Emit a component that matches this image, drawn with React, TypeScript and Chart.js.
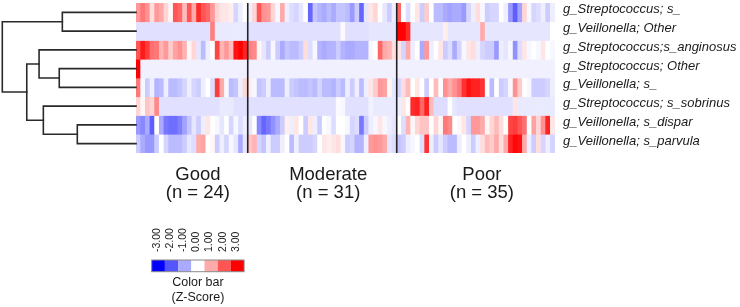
import React, { useEffect, useRef } from "react";
import { Chart, registerables } from "chart.js";

Chart.register(...registerables);

// ---------- data ----------
const taxa = [
  "g_Streptococcus; s_",
  "g_Veillonella; Other",
  "g_Streptococcus;s_anginosus",
  "g_Streptococcus; Other",
  "g_Veillonella; s_",
  "g_Streptococcus; s_sobrinus",
  "g_Veillonella; s_dispar",
  "g_Veillonella; s_parvula",
];

const groupNames = ["Good", "Moderate", "Poor"];
const groupN = [24, 31, 35];
const groupColumns = [24, 32, 34];

const colorBarTicks = [-3, -2, -1, 0, 1, 2, 3];

// z-scores per taxon: Good | Moderate | Poor columns
const zStreptococcusS = [
  1.2, 1.6, 1.3, 0.4, 1.2, 1.0, 0.5, 0.1, 2.0, 1.8, 0.8, 2.0, 1.0, 2.5, 2.0, 1.8, 1.2, 0.5, 0.3, 0.3, 0.2, -0.5, -0.2, 0.0,
  -0.2, 0.5, 2.0, 1.3, 1.2, 0.5, -0.1, 1.0, -0.2, -0.4, -0.5, -0.3, 0.0, -1.8, -0.7, -0.9, -1.0, -0.8, -1.0, -0.7, -0.7, -0.8, -1.2, -0.6, -1.8, -0.3, 0.3, 0.5, 0.0, -0.3, -0.6, -0.2,
  1.8, 0.0, -0.4, 0.0, 0.3, -0.6, 0.6, 0.0, -0.8, -0.8, -1.0, -1.1, -1.0, -1.0, -1.2, -0.5, -0.2, 0.4, -0.1, -0.6, -0.5, -0.5, 0.0, -0.2, -1.2, -1.9, -1.1, 0.5, -0.1, -0.5, -0.4, -0.2, -0.6, -0.2,
];
const zVeillonellaOther = [
  -0.35, -0.35, -0.35, -0.35, -0.35, -0.35, -0.35, -0.35, -0.35, -0.35, -0.35, -0.35, -0.35, -0.35, -0.35, -0.35, 1.5, -0.25, -0.25, -0.25, -0.25, -0.25, -0.25, -0.25,
  -0.35, -0.35, -0.35, -0.35, -0.35, -0.35, -0.35, -0.35, -0.35, -0.35, -0.35, -0.35, -0.35, -0.35, -0.35, -0.35, -0.35, -0.35, -0.35, -0.35, -0.05, -0.35, -0.35, -0.35, -0.35, -0.35, -0.3, -0.3, -0.3, -0.3, -0.3, -0.3,
  3.0, 3.0, 2.5, -0.3, -0.3, -0.3, -0.3, -0.3, -0.3, -0.3, 0.2, -0.3, -0.3, -0.3, -0.3, -0.3, -0.3, -0.3, 1.0, -0.3, -0.3, -0.3, -0.3, -0.3, -0.3, -0.3, -0.3, -0.3, -0.3, -0.3, -0.3, -0.3, -0.3, 0.0,
];
const zStreptococcusAnginosus = [
  2.0, 2.7, 2.3, 1.7, 1.6, 0.9, 1.2, 0.6, 1.1, 1.3, 0.9, 0.1, 0.5, -0.3, -0.8, -0.2, 0.0, 2.2, 0.9, 1.2, 0.8, 2.8, 3.0, 2.6,
  1.5, 1.4, 0.1, -0.3, -0.6, -0.1, -0.6, -1.0, -0.7, -0.8, -0.8, -0.6, 0.4, -0.4, -0.1, -0.9, -1.0, -0.9, -0.9, -0.6, -0.9, -1.0, -1.0, -0.9, -0.9, -0.9, -0.1, 0.0, 1.8, 1.0, 0.9, 0.4,
  0.3, -0.5, 1.0, -0.2, 0.0, -1.0, 1.2, -0.2, 0.0, 0.3, -0.6, -0.4, -1.0, -0.5, -0.1, 0.3, 0.4, -0.2, -0.5, -0.6, -0.6, -1.2, -0.2, -0.3, -0.1, -1.3, -0.4, 0.3, -0.1, 0.0, -0.1, 0.3, 0.0, -0.1,
];
const zStreptococcusOther = [
  3.0, -0.18, -0.18, -0.18, -0.18, -0.18, -0.18, -0.18, -0.18, -0.18, -0.18, -0.18, -0.18, -0.18, -0.18, -0.18, -0.18, -0.18, -0.18, -0.18, -0.18, -0.18, -0.18, -0.18,
  -0.18, -0.18, -0.18, -0.18, -0.18, -0.18, -0.18, -0.18, -0.18, -0.18, -0.18, -0.18, -0.18, -0.18, -0.18, -0.18, -0.18, -0.18, -0.18, -0.18, -0.18, -0.18, -0.18, -0.18, -0.18, -0.18, -0.18, -0.18, -0.18, -0.18, -0.18, -0.18,
  -0.18, -0.18, -0.18, -0.18, -0.18, -0.18, -0.18, -0.18, -0.18, -0.18, -0.18, -0.18, -0.18, -0.18, -0.18, -0.18, -0.18, -0.18, -0.18, -0.18, -0.18, -0.18, -0.18, -0.18, -0.18, -0.18, -0.18, -0.18, -0.18, -0.18, -0.18, -0.18, -0.18, -0.18,
];
const zVeillonellaS = [
  1.6, -0.1, -0.6, -0.2, -0.9, -0.8, -0.2, -0.8, -0.8, -0.7, -0.5, -0.2, -0.5, -0.6, -0.2, 0.0, -0.4, 2.3, 1.0, -0.1, -0.8, -0.7, -0.2, 0.5,
  0.2, -0.1, -0.7, -0.6, -0.2, -0.8, -0.8, -0.8, -0.2, -0.6, -0.7, -0.8, -0.8, -0.7, -0.8, -0.5, -0.8, -0.8, -0.9, -0.6, -0.8, -0.2, -0.6, -0.2, -0.8, -0.2, 0.3, 0.6, 1.2, 1.1, 0.1, -0.3,
  -0.5, 0.4, 0.8, 0.0, 0.3, 0.0, -0.6, 0.0, 0.8, 0.0, 1.3, 1.0, 1.3, 1.6, 2.4, 2.8, 2.6, 2.6, 2.4, 0.0, -0.8, 0.0, -0.6, -0.5, -0.1, 1.3, 0.6, 0.0, -0.1, -0.6, -0.6, -0.6, -0.5, -0.2,
];
const zStreptococcusSobrinus = [
  0.5, 0.1, 0.7, 0.5, 1.4, -0.35, -0.35, -0.35, -0.35, -0.35, -0.35, -0.35, -0.35, -0.35, -0.35, -0.35, -0.35, -0.35, -0.25, -0.25, -0.25, -0.35, -0.35, -0.35,
  -0.35, -0.35, -0.35, -0.35, -0.35, -0.35, -0.35, -0.35, -0.35, -0.35, -0.35, -0.35, -0.35, -0.35, -0.35, -0.35, -0.35, -0.35, -0.35, -0.05, -0.1, -0.35, -0.35, -0.35, -0.35, -0.35, -0.15, -0.25, -0.25, -0.25, -0.25, -0.25,
  -0.2, 0.3, 0.0, 2.5, 2.6, 1.8, 2.6, 0.8, -0.4, -0.4, -0.4, 0.0, -0.3, -0.35, -0.35, -0.35, -0.35, -0.35, -0.35, -0.35, -0.35, -0.35, -0.35, -0.35, -0.35, 0.3, -0.25, -0.25, -0.25, -0.25, -0.25, -0.25, -0.25, -0.25,
];
const zVeillonellaDispar = [
  -1.2, -1.4, -1.0, -1.9, 0.0, -1.0, -1.6, -1.7, -1.7, -1.5, -1.1, -0.7, -0.3, -0.6, -0.2, 0.3, 0.0, -0.1, -0.3, 0.0, -0.5, -0.1, -0.4, -0.2,
  -0.3, 0.0, -1.4, -1.8, -1.6, -1.3, -1.0, -0.6, 0.2, -0.2, 0.3, 0.0, -0.6, 0.3, -0.2, -0.6, 0.0, -0.1, -0.4, 0.0, 0.0, -0.1, -0.5, -0.4, -1.6, -0.6, -0.2, -0.1, 0.3, -0.1, -0.2, -0.3,
  0.0, -0.4, 0.9, 0.1, 0.5, 0.7, 0.7, 0.0, 0.5, 0.1, 1.6, 1.4, 0.0, 0.1, 0.3, -0.5, 1.2, 1.2, 1.0, 0.1, 0.5, 0.8, 0.4, 0.0, 2.2, 2.3, 2.0, 1.7, 0.0, 1.1, 0.5, 1.3, 2.6, 0.3,
];
const zVeillonellaParvula = [
  -0.6, -1.0, -1.2, -1.2, -0.6, 0.0, -0.5, -0.8, -0.8, -0.8, -0.6, -0.3, -0.4, 1.0, 1.1, 0.0, 0.1, -0.6, -0.2, -0.5, -0.1, -0.3, -1.0, -0.3,
  0.7, 0.9, -0.5, -0.7, -0.2, -0.6, -0.6, -0.2, 0.0, -0.8, -0.2, -0.6, -0.6, -0.6, -0.5, 0.0, 0.3, 0.2, 0.3, 0.4, -0.1, -0.6, -0.5, -0.9, -0.9, -0.2, 1.2, 1.3, 1.2, 1.0, -0.3, -0.4,
  -0.7, -0.6, -0.2, -0.1, 0.0, -0.4, 2.4, -0.2, -0.6, -0.3, -0.6, -0.8, -0.8, -0.2, 0.0, -0.2, -0.6, -0.2, 0.4, 0.8, 0.6, 1.0, 0.4, 1.0, 2.6, 2.9, 2.8, 1.0, -0.2, -0.6, 0.4, -0.5, -0.2, -0.5,
];

const zRows = [
  zStreptococcusS,
  zVeillonellaOther,
  zStreptococcusAnginosus,
  zStreptococcusOther,
  zVeillonellaS,
  zStreptococcusSobrinus,
  zVeillonellaDispar,
  zVeillonellaParvula,
];

// hierarchical clustering of rows: [childA, childB, distance]; leaves 0-7, merged nodes 8+
const dendroMerges: [number, number, number][] = [
  [6, 7, 0.439],
  [0, 1, 0.551],
  [3, 4, 0.574],
  [5, 8, 0.693],
  [2, 10, 0.725],
  [12, 11, 0.817],
  [9, 13, 1.0],
];

// ---------- helpers ----------
function zColor(v: number): string {
  const t = Math.max(-3, Math.min(3, v)) / 3;
  if (t < 0) {
    const c = Math.round(255 * (1 + t));
    return `rgb(${c},${c},255)`;
  }
  const c = Math.round(255 * (1 - t));
  return `rgb(255,${c},${c})`;
}

const sampleLabels: string[] = [];
groupColumns.forEach((n, g) => {
  for (let i = 0; i < n; i++) sampleLabels.push(`${groupNames[g]} ${i + 1}`);
});

const TEXT = "#1a1a1a";
const DENDRO_WIDTH = 133.7;

const overlayPlugin = {
  id: "heatOverlay",
  afterDraw(chart: any) {
    const ctx = chart.ctx as CanvasRenderingContext2D;
    const area = chart.chartArea;
    const xs = chart.scales.x;
    const ys = chart.scales.y;
    ctx.save();

    const colEdge = (i: number) => {
      if (i <= 0) return area.left;
      if (i >= sampleLabels.length) return area.right;
      return (xs.getPixelForValue(i - 1) + xs.getPixelForValue(i)) / 2;
    };

    // group separators
    ctx.strokeStyle = "#222";
    ctx.lineWidth = 1.6;
    let acc = 0;
    for (let g = 0; g < groupColumns.length - 1; g++) {
      acc += groupColumns[g];
      const x = colEdge(acc);
      ctx.beginPath();
      ctx.moveTo(x, area.top);
      ctx.lineTo(x, area.bottom);
      ctx.stroke();
    }

    // dendrogram
    const nodeY: number[] = [];
    const nodeX: number[] = [];
    for (let i = 0; i < taxa.length; i++) {
      nodeY[i] = ys.getPixelForValue(i + 0.5);
      nodeX[i] = area.left;
    }
    ctx.strokeStyle = "#2a2a2a";
    ctx.lineWidth = 1.6;
    ctx.lineCap = "square";
    dendroMerges.forEach(([a, b, h], k) => {
      const id = taxa.length + k;
      const x = area.left - h * DENDRO_WIDTH;
      ctx.beginPath();
      ctx.moveTo(nodeX[a], nodeY[a]);
      ctx.lineTo(x, nodeY[a]);
      ctx.lineTo(x, nodeY[b]);
      ctx.lineTo(nodeX[b], nodeY[b]);
      ctx.stroke();
      nodeX[id] = x;
      nodeY[id] = (nodeY[a] + nodeY[b]) / 2;
    });

    // row labels
    ctx.fillStyle = TEXT;
    ctx.font = "italic 13px 'Liberation Sans', Arial, sans-serif";
    ctx.textAlign = "left";
    ctx.textBaseline = "alphabetic";
    taxa.forEach((t, i) => {
      ctx.fillText(t, area.right + 8, ys.getPixelForValue(i + 0.5) + 1);
    });

    // group labels
    ctx.font = "18.5px 'Liberation Sans', Arial, sans-serif";
    ctx.textAlign = "center";
    acc = 0;
    groupColumns.forEach((n, g) => {
      const cx = (colEdge(acc) + colEdge(acc + n)) / 2 + 6;
      ctx.fillText(groupNames[g], cx, area.bottom + 27);
      ctx.fillText(`(n = ${groupN[g]})`, cx, area.bottom + 45);
      acc += n;
    });

    // colour bar
    const barL = 151.7;
    const segW = 13.2;
    const barT = 260;
    const barH = 11.7;
    colorBarTicks.forEach((v, i) => {
      ctx.fillStyle = zColor(v);
      ctx.fillRect(barL + i * segW, barT, segW, barH);
    });
    ctx.strokeStyle = "#8a8a8a";
    ctx.lineWidth = 1;
    ctx.strokeRect(barL, barT, segW * colorBarTicks.length, barH);

    ctx.fillStyle = TEXT;
    ctx.font = "10.5px 'Liberation Sans', Arial, sans-serif";
    ctx.textAlign = "left";
    ctx.textBaseline = "middle";
    colorBarTicks.forEach((v, i) => {
      const cx = barL + (i + 0.5) * segW - 1.5;
      ctx.save();
      ctx.translate(cx, 252);
      ctx.rotate(-Math.PI / 2);
      ctx.fillText(v.toFixed(2), 0, 0);
      ctx.restore();
    });

    ctx.font = "12.5px 'Liberation Sans', Arial, sans-serif";
    ctx.textAlign = "center";
    ctx.textBaseline = "alphabetic";
    const cbx = barL + (segW * colorBarTicks.length) / 2;
    ctx.fillText("Color bar", cbx, 286);
    ctx.fillText("(Z-Score)", cbx, 301);

    ctx.restore();
  },
};

export default function App() {
  const canvasRef = useRef<HTMLCanvasElement | null>(null);

  useEffect(() => {
    if (!canvasRef.current) return;
    const chart = new Chart(canvasRef.current, {
      type: "bar",
      data: {
        labels: sampleLabels,
        datasets: zRows.map((row, r) => ({
          label: taxa[r],
          data: row.map(() => [r, r + 1]),
          backgroundColor: row.map(zColor),
          borderWidth: 0,
          barPercentage: 1,
          categoryPercentage: 1,
          grouped: false,
        })) as any,
      },
      options: {
        responsive: false,
        animation: false,
        devicePixelRatio: 1,
        layout: { padding: { left: 136, right: 185, top: 3, bottom: 154 } },
        scales: {
          x: { type: "category", display: false, offset: true },
          y: { type: "linear", min: 0, max: 8, reverse: true, display: false },
        },
        plugins: {
          legend: { display: false },
          tooltip: { enabled: false },
        },
      },
      plugins: [overlayPlugin],
    });
    return () => chart.destroy();
  }, []);

  return (
    <div style={{ position: "absolute", left: 0, top: 0, width: 740, height: 307, background: "#fff" }}>
      <canvas ref={canvasRef} width={740} height={307} style={{ display: "block", width: 740, height: 307 }} />
    </div>
  );
}
